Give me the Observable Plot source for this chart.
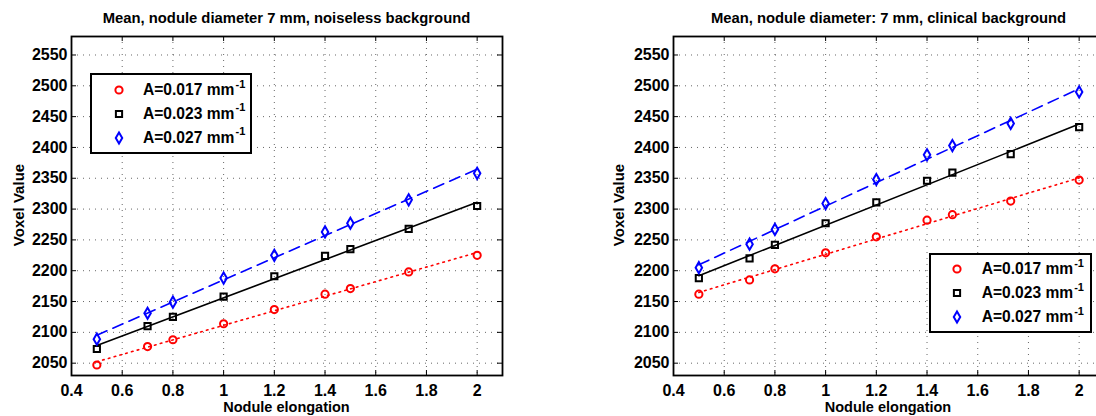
<!DOCTYPE html>
<html><head><meta charset="utf-8">
<script src="https://cdn.jsdelivr.net/npm/d3@7"></script>
<script src="https://cdn.jsdelivr.net/npm/@observablehq/plot@0.6"></script>
<style>
html,body{margin:0;padding:0;background:#fff;}
#wrap{position:relative;width:1096px;height:416px;overflow:hidden;background:#fff;font-family:"Liberation Sans",Arial,Helvetica,sans-serif;font-weight:bold;color:#000;}
.abs{position:absolute;white-space:nowrap;line-height:1;}
.title{font-size:14.8px;transform:translate(-50%,-50%);}
.xlab{font-size:14.5px;transform:translate(-50%,-50%);}
.ylab{font-size:15px;transform:translate(-50%,-50%) rotate(-90deg);}
.panel{position:absolute;top:0;}
.legend{position:absolute;border:2px solid #000;background:#fff;box-sizing:border-box;}
.row{position:absolute;font-size:15.6px;line-height:1;white-space:nowrap;transform:translateY(-50%);}
.sup{font-size:11px;position:relative;top:-7.5px;margin-left:1px;}
.mk{position:absolute;overflow:visible;}
</style></head>
<body><div id="wrap"></div>
<script>
// ---- data ----
const elongation = [0.5, 0.7, 0.8, 1.0, 1.2, 1.4, 1.5, 1.73, 2.0];
const seriesLabels = ["A=0.017 mm", "A=0.023 mm", "A=0.027 mm"];
// noiseless background
const noiselessA017 = [2047, 2077, 2088, 2114, 2137, 2162, 2171, 2198, 2225];
const noiselessA023 = [2073, 2110, 2125, 2158, 2191, 2224, 2235, 2268, 2305];
const noiselessA027 = [2089, 2131, 2149, 2188, 2225, 2263, 2277, 2315, 2358];
// clinical background
const clinicalA017 = [2162, 2185, 2203, 2229, 2255, 2282, 2291, 2313, 2347];
const clinicalA023 = [2188, 2220, 2242, 2277, 2311, 2346, 2359, 2389, 2433];
const clinicalA027 = [2205, 2243, 2267, 2309, 2348, 2388, 2403, 2439, 2490];
const xTicks = [0.4, 0.6, 0.8, 1, 1.2, 1.4, 1.6, 1.8, 2];
const yTicks = [2050, 2100, 2150, 2200, 2250, 2300, 2350, 2400, 2450, 2500, 2550];
const titles = ["Mean, nodule diameter 7 mm, noiseless background", "Mean, nodule diameter: 7 mm, clinical background"];
const xLabel = "Nodule elongation";
const yLabel = "Voxel Value";

const styles = [
  {color: "#ff0000", symbol: "circle", r: 3.6, dash: "1.6,4.4"},
  {color: "#000000", symbol: "square", r: 3.5, dash: undefined},
  {color: "#0000ff", symbol: "diamond", r: 3.4, dash: "11,6.5"}
];
const FONT = "'Liberation Sans', Arial, Helvetica, sans-serif";

function panel(values, o) {
  const rows = [];
  values.forEach((arr, s) => arr.forEach((v, j) => rows.push({x: elongation[j], y: v, s})));
  const H = 416, mt = 36, mb = 41;
  const ph = H - mt - mb, pw = o.width - o.ml - o.mr;
  const marks = [
    Plot.ruleX(xTicks, {stroke: "#000", strokeOpacity: 0.6, strokeDasharray: "1,5"}),
    Plot.ruleY(yTicks, {stroke: "#000", strokeOpacity: 0.6, strokeDasharray: "1,5"}),
    Plot.tickX(xTicks, {x: d => d, stroke: "#000", insetTop: ph - 5}),
    Plot.tickX(xTicks, {x: d => d, stroke: "#000", insetBottom: ph - 5}),
    Plot.tickY(yTicks, {y: d => d, stroke: "#000", insetRight: pw - 5}),
    Plot.tickY(yTicks, {y: d => d, stroke: "#000", insetLeft: pw - 5})
  ];
  styles.forEach((st, i) => {
    const d = rows.filter(r => r.s === i);
    marks.push(Plot.linearRegressionY(d, {x: "x", y: "y", stroke: st.color, strokeWidth: 1.6, strokeDasharray: st.dash, ci: 0}));
  });
  styles.forEach((st, i) => {
    const d = rows.filter(r => r.s === i);
    marks.push(Plot.dot(d, {x: "x", y: "y", stroke: st.color, symbol: st.symbol, r: st.r, strokeWidth: 2, fill: "none"}));
  });
  marks.push(Plot.frame({stroke: "#000", strokeWidth: 1.8}));
  return Plot.plot({
    width: o.width, height: H,
    marginLeft: o.ml, marginRight: o.mr, marginTop: mt, marginBottom: mb,
    x: {domain: [0.4, 2.1], ticks: xTicks, tickFormat: d => String(d), tickSize: 0, tickPadding: 9, label: null},
    y: {domain: [2030, 2580], ticks: yTicks, tickFormat: d => String(d), tickSize: 0, tickPadding: 4, label: null},
    style: {fontSize: "16px", fontFamily: FONT, fontWeight: "bold", background: "transparent", color: "#000", overflow: "visible"},
    marks
  });
}

const wrap = document.getElementById("wrap");
function addDiv(cls, text, left, top) {
  const d = document.createElement("div");
  d.className = "abs " + cls;
  d.textContent = text;
  d.style.left = left + "px"; d.style.top = top + "px";
  wrap.appendChild(d);
  return d;
}
function markerSVG(st) {
  const sz = 16;
  const ns = "http://www.w3.org/2000/svg";
  const svg = document.createElementNS(ns, "svg");
  svg.setAttribute("width", sz); svg.setAttribute("height", sz);
  svg.setAttribute("class", "mk");
  const p = document.createElementNS(ns, "path");
  const sym = {circle: d3.symbolCircle, square: d3.symbolSquare, diamond: d3.symbolDiamond}[st.symbol];
  p.setAttribute("d", d3.symbol(sym, Math.PI * st.r * st.r)());
  p.setAttribute("transform", `translate(${sz/2},${sz/2})`);
  p.setAttribute("fill", "none"); p.setAttribute("stroke", st.color); p.setAttribute("stroke-width", 2);
  svg.appendChild(p);
  return svg;
}
function legend(box, mx, tx, ys) {
  const lg = document.createElement("div");
  lg.className = "legend";
  lg.style.left = box[0] + "px"; lg.style.top = box[1] + "px";
  lg.style.width = box[2] + "px"; lg.style.height = box[3] + "px";
  wrap.appendChild(lg);
  styles.forEach((st, i) => {
    const m = markerSVG(st);
    m.style.left = (mx - 8) + "px"; m.style.top = (ys[i] - 8) + "px";
    wrap.appendChild(m);
    const r = document.createElement("div");
    r.className = "row";
    r.style.left = tx + "px"; r.style.top = ys[i] + "px";
    r.textContent = seriesLabels[i];
    const s = document.createElement("span"); s.className = "sup"; s.textContent = "-1";
    r.appendChild(s);
    wrap.appendChild(r);
  });
}

const left = panel([noiselessA017, noiselessA023, noiselessA027], {width: 520, ml: 71, mr: 18});
left.classList.add("panel"); left.style.left = "0px";
wrap.appendChild(left);
const right = panel([clinicalA017, clinicalA023, clinicalA027], {width: 560, ml: 123, mr: 6});
right.classList.add("panel"); right.style.left = "550px";
wrap.appendChild(right);

addDiv("title", titles[0], 286.5, 18);
addDiv("title", titles[1], 888.5, 18);
addDiv("xlab", xLabel, 286.5, 407);
addDiv("xlab", xLabel, 888, 407);
addDiv("ylab", yLabel, 17.5, 205);
addDiv("ylab", yLabel, 618, 205);

legend([90, 73, 162, 81], 119.3, 143, [90, 113.5, 137.5]);
legend([929, 253, 163, 80], 956.7, 981.7, [269, 293, 317]);
</script></body></html>
